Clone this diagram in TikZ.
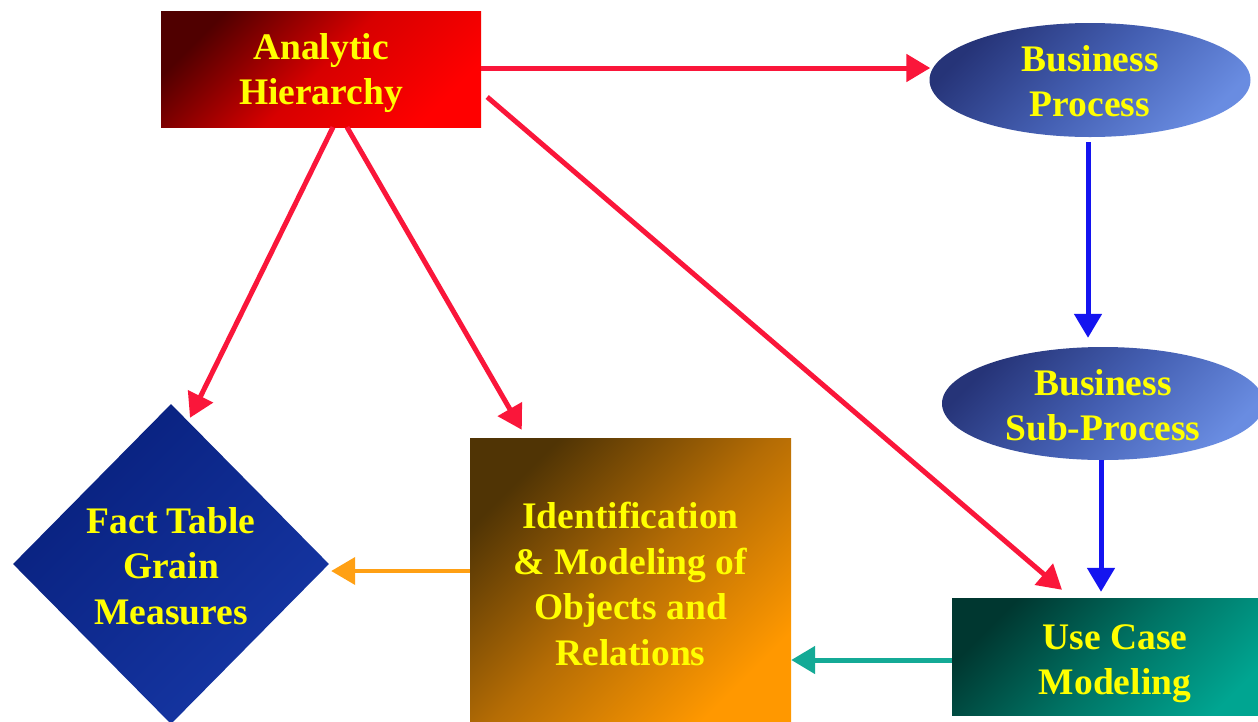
\documentclass[tikz,border=0pt]{standalone}
\usepackage{fontspec}
\setmainfont{Liberation Serif}
\usetikzlibrary{arrows.meta,shapes.geometric,calc}

% label and fill colours
\definecolor{labelyellow}{RGB}{255,255,0}
\definecolor{ahdark}{RGB}{80,0,0}
\definecolor{ahmid}{RGB}{215,0,0}
\definecolor{ahlight}{RGB}{255,0,0}
\definecolor{bpdark}{RGB}{38,52,120}
\definecolor{bpmid}{RGB}{68,95,178}
\definecolor{bplight}{RGB}{105,140,225}
\definecolor{iddark}{RGB}{80,52,5}
\definecolor{idmid}{RGB}{180,108,5}
\definecolor{idlight}{RGB}{255,152,0}
\definecolor{ucdark}{RGB}{0,55,48}
\definecolor{ucmid}{RGB}{0,115,100}
\definecolor{uclight}{RGB}{0,165,145}
\definecolor{ftdark}{RGB}{8,32,125}
\definecolor{ftlight}{RGB}{22,55,165}
% connector colours
\definecolor{redline}{RGB}{250,22,58}
\definecolor{blueline}{RGB}{20,20,240}
\definecolor{tealline}{RGB}{20,170,150}
\definecolor{orangeline}{RGB}{255,160,20}

\begin{document}
\begin{tikzpicture}[x=1pt,y=-1pt,
  shapebox/.style={draw=none, inner sep=0pt},
  lbl/.style={inner sep=0pt, align=center, text=labelyellow,
              font=\fontsize{37.5}{45.5}\selectfont\bfseries},
  conn/.style={line width=5pt, -{Triangle[length=24pt,width=27pt]}},
]
\useasboundingbox (0,0) rectangle (1258,721);
\clip (0,0) rectangle (1258,721);
\fill[white] (0,0) rectangle (1258,721);

% shapes (middle colour set last so it is not reset to the average)
\node[shapebox, rectangle, minimum width=320pt, minimum height=116pt,
      top color=ahdark, bottom color=ahlight, middle color=ahmid, shading angle=45]
      (ah) at (321,69) {};
\node[shapebox, ellipse, minimum width=321pt, minimum height=114pt,
      top color=bpdark, bottom color=bplight, middle color=bpmid, shading angle=45]
      (bp) at (1090,80) {};
\node[shapebox, ellipse, minimum width=322pt, minimum height=113pt,
      top color=bpdark, bottom color=bplight, middle color=bpmid, shading angle=45]
      (bsp) at (1103,403.5) {};
\node[shapebox, rectangle, minimum width=326pt, minimum height=117pt,
      top color=ucdark, bottom color=uclight, middle color=ucmid, shading angle=45]
      (ucm) at (1115,656.5) {};
\node[shapebox, rectangle, minimum width=321pt, minimum height=284pt,
      top color=iddark, bottom color=idlight, middle color=idmid, shading angle=45]
      (id) at (630.5,580) {};
\node[shapebox, diamond, minimum width=316pt, minimum height=320pt,
      top color=ftdark, bottom color=ftlight, shading angle=45]
      (ft) at (171,564) {};

% labels
\node[lbl] (ah-text)  at ($(ah)+(0,4)$)       {Analytic\\Hierarchy};
\node[lbl] (bp-text)  at ($(bp)+(0,1)$)       {Business\\Process};
\node[lbl] (bsp-text) at ($(bsp)+(0,1.5)$)    {Business\\Sub-Process};
\node[lbl] (ucm-text) at ($(ucm)+(0,7)$)      {Use Case\\Modeling};
\node[lbl] (id-text)  at ($(id)+(0,4)$)       {Identification\\\& Modeling of\\Objects and\\Relations};
\node[lbl] (ft-text)  at ($(ft)+(0,2)$)       {Fact Table\\Grain\\Measures};

% connectors
\draw[conn, redline] ($(ah.east)+(0,-1)$) -- ($(ah.east -| bp.west)+(1,-1)$);
\draw[conn, redline] ($(ah.east)+(6,28)$) -- ($(ucm.north)+(-53,-8)$);
\draw[conn, redline] ($(ah.south)+(12,0)$) -- ($(ft.north)+(19,14)$);
\draw[conn, redline] ($(ah.south)+(26,0)$) -- ($(id.north west)+(52,-8)$);
\draw[conn, blueline] ($(bp.south)+(-2,5)$) -- ($(bp.south |- bsp.north)+(-2,-9)$);
\draw[conn, blueline] ($(bsp.south)+(-2,0)$) -- ($(bsp.south |- ucm.north)+(-2,-6)$);
\draw[conn, tealline] ($(ucm.west)+(0,3.5)$) -- ($(id.east |- ucm.west)+(0,3.5)$);
\draw[conn, orangeline, line width=4pt] ($(id.west)+(0,-9)$) -- ($(ft.east)+(2,7)$);
\end{tikzpicture}
\end{document}
